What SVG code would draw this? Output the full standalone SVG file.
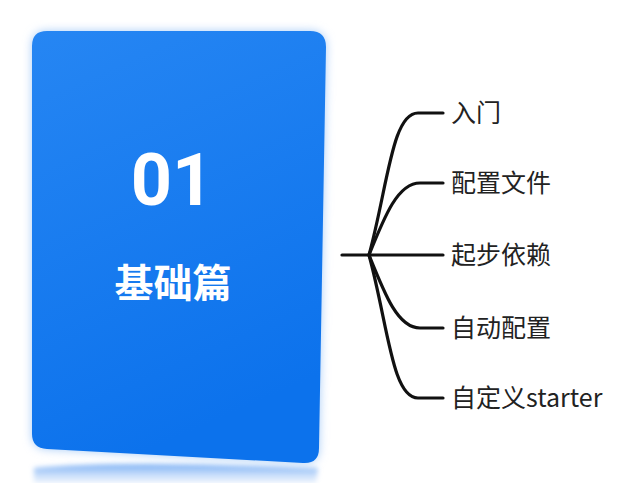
<svg xmlns="http://www.w3.org/2000/svg" width="635" height="483" viewBox="0 0 635 483">
<defs>
<linearGradient id="cardFill" x1="0" y1="0" x2="0.3" y2="1">
<stop offset="0" stop-color="#2686f3"/>
<stop offset="1" stop-color="#0c72ec"/>
</linearGradient>
<linearGradient id="refl" x1="0" y1="0" x2="0" y2="1">
<stop offset="0" stop-color="#6fa8f3" stop-opacity="0.95"/>
<stop offset="1" stop-color="#cfe2fb" stop-opacity="0.4"/>
</linearGradient>
<filter id="glow" x="-20%" y="-20%" width="140%" height="140%">
<feGaussianBlur stdDeviation="5"/>
</filter>
<filter id="soft" x="-10%" y="-50%" width="120%" height="200%">
<feGaussianBlur stdDeviation="2.5"/>
</filter>
<style>
.br{fill:none;stroke:#111;stroke-width:3.2;stroke-linecap:round;stroke-linejoin:round}
.lbl{font-family:"Noto Sans CJK SC","Noto Sans",sans-serif;font-size:25px;fill:#222}
.cardtxt{font-family:Roboto,"Noto Sans CJK SC",sans-serif;fill:#fff;font-weight:bold;text-anchor:middle}
</style>
</defs>
<rect width="635" height="483" fill="#ffffff"/>
<g id="card">
<path d="M34,468 Q120,460 318,468 L316,483 L34,483 Z" fill="url(#refl)" filter="url(#soft)"/>
<path d="M47,31 L310,31 Q326,31 326,47 L319,448 Q319,464 303,463 L47,449 Q32,448 32,434 L32,46 Q32,31 47,31 Z" fill="#a9cdf8" filter="url(#glow)"/>
<path d="M47,31 L310,31 Q326,31 326,47 L319,448 Q319,464 303,463 L47,449 Q32,448 32,434 L32,46 Q32,31 47,31 Z" fill="url(#cardFill)"/>
<text class="cardtxt" x="172" y="205" font-size="72">01</text>
<text class="cardtxt" x="173" y="297" font-size="39">基础篇</text>
</g>
<g id="connectors">
<path class="br" d="M342,255 H443"/>
<path class="br" d="M369,255 C388,185 392,113 418,113 H443"/>
<path class="br" d="M369,255 C385,215 398,183 420,183 H443"/>
<path class="br" d="M369,255 C385,295 398,328 420,328 H443"/>
<path class="br" d="M369,255 C388,325 392,398 418,398 H443"/>
</g>
<g id="n1"><text class="lbl" x="451" y="122">入门</text></g>
<g id="n2"><text class="lbl" x="451" y="192">配置文件</text></g>
<g id="n3"><text class="lbl" x="451" y="264">起步依赖</text></g>
<g id="n4"><text class="lbl" x="451" y="337">自动配置</text></g>
<g id="n5"><text class="lbl" x="451" y="407">自定义starter</text></g>
</svg>
